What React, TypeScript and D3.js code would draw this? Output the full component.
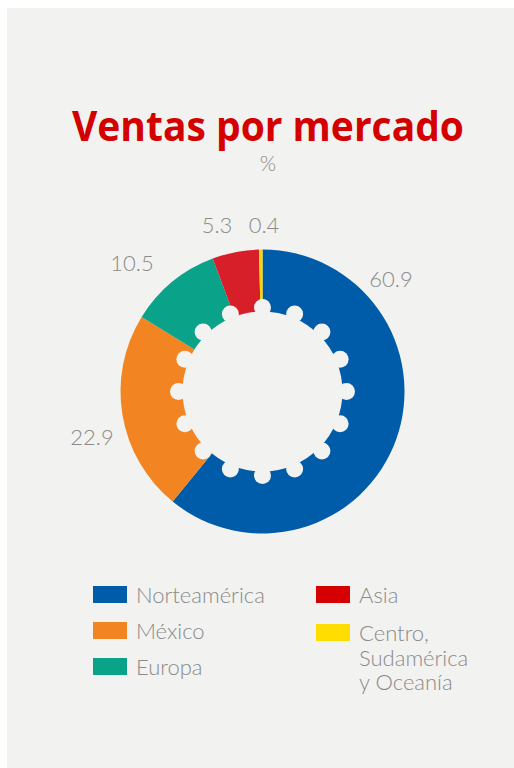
import React from "react";
import * as d3 from "d3";

// data
const markets = ["Norteamérica", "México", "Europa", "Asia", "Centro, Sudamérica y Oceanía"];
const shares = [60.9, 22.9, 10.5, 5.3, 0.4];
const sliceColors = ["#005ca9", "#f28521", "#0aa38a", "#d71f2a", "#ffd700"];
const legendColors = ["#005ca9", "#f28521", "#0aa38a", "#d50000", "#ffdd00"];
const legendLines = [["Norteamérica"], ["México"], ["Europa"], ["Asia"], ["Centro,", "Sudamérica", "y Oceanía"]];

// where each value label sits (layout only)
const labelPos: [number, number][] = [
  [391, 287],
  [92, 445],
  [132, 271],
  [217, 233],
  [264, 233],
];

const W = 514;
const H = 768;
const BG = "#f2f2f0";
const GREY = "#8a8a8a";

const cx = 262.5;
const cy = 391.5;
const outerR = 142;
const innerR = 80;
const bumpDist = 84;
const bumpR = 8.5;
const bumps = d3.range(16);

const App = () => {
  const pie = d3.pie<number>().sort(null).value(d => d);
  const arcs = pie(shares);
  const arc = d3.arc<d3.PieArcDatum<number>>().innerRadius(60).outerRadius(outerR);

  const legendX = [93, 316];
  const rowY = (i: number) => 586 + i * 36;

  return (
    <svg width={W} height={H} style={{ position: "absolute", left: 0, top: 0 }}>
      <rect x={7} y={8} width={W - 7} height={H - 8} fill={BG} />
      <text x={268} y={141} textAnchor="middle" fill="#d40000"
        fontFamily="'Open Sans', sans-serif" fontWeight={700} fontSize={42}
        textLength={392} lengthAdjust="spacingAndGlyphs">Ventas por mercado</text>
      <text x={268} y={171} textAnchor="middle" fill={GREY}
        fontFamily="Lato, sans-serif" fontWeight={300} fontSize={21}>%</text>

      <g transform={`translate(${cx},${cy})`}>
        {arcs.map((a, i) => (
          <path key={markets[i]} d={arc(a) || ""} fill={sliceColors[i]} />
        ))}
        <circle r={innerR} fill={BG} />
        {bumps.map(k => {
          const ang = (k * 2 * Math.PI) / bumps.length;
          return <circle key={k} cx={bumpDist * Math.sin(ang)} cy={-bumpDist * Math.cos(ang)} r={bumpR} fill={BG} />;
        })}
      </g>

      {shares.map((v, i) => (
        <text key={"l" + i} x={labelPos[i][0]} y={labelPos[i][1]} textAnchor="middle" fill={GREY}
          fontFamily="Lato, sans-serif" fontWeight={300} fontSize={22}>{v.toFixed(1)}</text>
      ))}

      {markets.map((m, i) => {
        const col = i < 3 ? 0 : 1;
        const row = i < 3 ? i : i - 3;
        const y = rowY(row) + (i === 4 ? 2 : 0);
        return (
          <g key={"lg" + m}>
            <rect x={legendX[col]} y={y} width={34} height={17} fill={legendColors[i]} />
            <text x={legendX[col] + 43} y={y + 17} fill={GREY}
              fontFamily="Lato, sans-serif" fontWeight={300} fontSize={22}>
              {legendLines[i].map((t, j) => (
                <tspan key={j} x={legendX[col] + 43} dy={j === 0 ? 0 : 24.5}>{t}</tspan>
              ))}
            </text>
          </g>
        );
      })}
    </svg>
  );
};

export default App;
